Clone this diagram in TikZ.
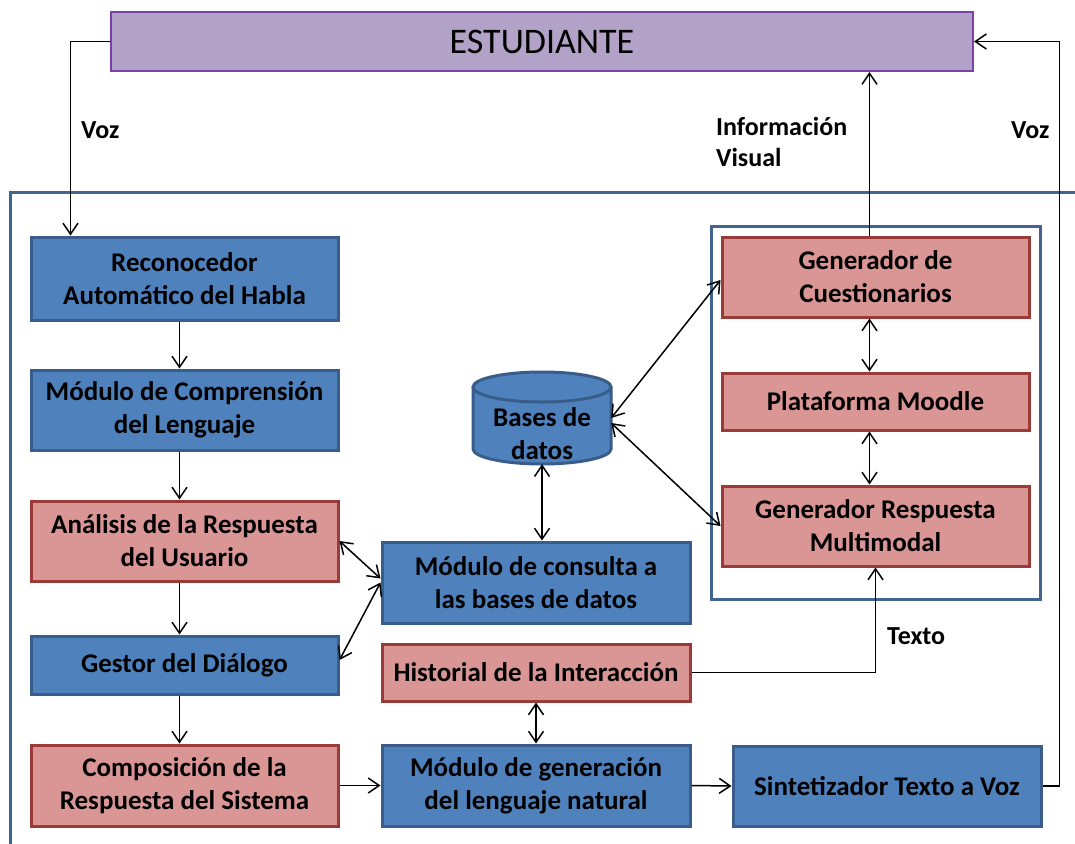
\documentclass[tikz,border=0pt]{standalone}
\usepackage{fontspec}
\setmainfont{Carlito}
\usetikzlibrary{arrows.meta}
\definecolor{azul}{HTML}{4F81BD}
\definecolor{azulborde}{HTML}{385D8A}
\definecolor{rosa}{HTML}{D99694}
\definecolor{rojoborde}{HTML}{9B3B38}
\definecolor{lila}{HTML}{B3A2C7}
\definecolor{lilaborde}{HTML}{7A3FA8}
\definecolor{marco}{HTML}{41658F}
\begin{document}
\begin{tikzpicture}[x=1pt,y=-1pt,
    caja/.style={draw,line width=3pt,align=center,inner sep=0pt,text=black,
      font=\fontsize{27}{33}\selectfont\bfseries},
    azulcaja/.style={caja,fill=azul,draw=azulborde},
    rojacaja/.style={caja,fill=rosa,draw=rojoborde},
    flecha/.style={line width=1.5pt,-{Straight Barb[length=11pt,width=15pt]}},
    dflecha/.style={line width=1.5pt,{Straight Barb[length=11pt,width=15pt]}-{Straight Barb[length=11pt,width=15pt]}},
    etiqueta/.style={font=\fontsize{26}{31}\selectfont\bfseries,align=left,inner sep=0pt}]
  \fill[white] (0,0) rectangle (1075,843);
  \useasboundingbox (0,0) rectangle (1075,843);
  \draw[marco,line width=3pt] (10,845) -- (10,192) -- (1077,192);
  \draw[marco,line width=3pt] (711,226) rectangle (1040,599);
  \node[draw=lilaborde,fill=lila,line width=2pt,minimum width=862pt,minimum height=59pt,
    font=\fontsize{36}{40}\selectfont] (est) at (542,41.5) {ESTUDIANTE};
  \node[azulcaja,minimum width=307pt,minimum height=83pt] (rah) at (184.5,278.5) {Reconocedor\\Automático del Habla};
  \node[azulcaja,minimum width=307pt,minimum height=80pt] (mcl) at (184.5,410) {Módulo de Comprensión\\del Lenguaje};
  \node[rojacaja,minimum width=307pt,minimum height=80pt] (ana) at (184.5,541) {Análisis de la Respuesta\\del Usuario};
  \node[azulcaja,minimum width=307pt,minimum height=58pt] (ges) at (184.5,665) {Gestor del Diálogo};
  \node[rojacaja,minimum width=307pt,minimum height=81pt] (com) at (184.5,785.5) {Composición de la\\Respuesta del Sistema};
  \fill[azul] (473,387) rectangle (611,449);
  \fill[azul] (542,449) ellipse [x radius=69, y radius=15];
  \draw[azulborde,line width=3pt] (473,387) -- (473,449) arc[start angle=180,end angle=0,x radius=69,y radius=15] -- (611,387);
  \draw[azulborde,fill=azul,line width=3pt] (542,387) ellipse [x radius=69, y radius=15];
  \node[minimum width=138pt,minimum height=92pt,inner sep=0pt] (bd) at (542,418) {};
  \node[caja,draw=none] (bdtexto) at (542,434) {Bases de\\datos};
  \node[azulcaja,minimum width=308pt,minimum height=81pt] (mcbd) at (536,582.5) {Módulo de consulta a\\las bases de datos};
  \node[rojacaja,minimum width=308pt,minimum height=57pt] (his) at (536,672.5) {Historial de la Interacción};
  \node[azulcaja,minimum width=308pt,minimum height=81pt] (mgl) at (536,785.5) {Módulo de generación\\del lenguaje natural};
  \node[azulcaja,minimum width=308pt,minimum height=80pt] (stv) at (887,786) {Sintetizador Texto a Voz};
  \node[rojacaja,minimum width=307pt,minimum height=80pt] (gcu) at (875.5,277) {Generador de\\Cuestionarios};
  \node[rojacaja,minimum width=307pt,minimum height=57pt] (pmo) at (875.5,401.5) {Plataforma Moodle};
  \node[rojacaja,minimum width=307pt,minimum height=80pt] (grm) at (875.5,526) {Generador Respuesta\\Multimodal};
  \draw[flecha] (est.west) -| ([xshift=41pt]rah.north west);
  \draw[flecha] ([xshift=-5pt]rah.south) -- ([xshift=-5pt]mcl.north);
  \draw[flecha] ([xshift=-5pt]mcl.south) -- ([xshift=-5pt]ana.north);
  \draw[flecha] ([xshift=-5pt]ana.south) -- ([xshift=-5pt]ges.north);
  \draw[flecha] ([xshift=-5pt]ges.south) -- ([xshift=-5pt]com.north);
  \draw[dflecha] (ana.east) -- ([yshift=4pt]mcbd.west);
  \draw[dflecha] ([yshift=5pt]ges.east) -- (mcbd.west);
  \draw[dflecha] (bd.south) -- (bd.south |- mcbd.north);
  \draw[dflecha] (bd.east) -- ([yshift=-3pt]gcu.west);
  \draw[dflecha] ([yshift=-5pt]bd.east) -- (grm.west);
  \draw[dflecha] ([xshift=-6pt]gcu.south) -- ([xshift=-6pt]pmo.north);
  \draw[dflecha] ([xshift=-6pt]pmo.south) -- ([xshift=-6pt]grm.north);
  \draw[dflecha] (his.south) -- (his.south |- mgl.north);
  \draw[flecha] ([xshift=-6pt]gcu.north) -- ([xshift=-6pt]gcu.north |- est.south);
  \draw[flecha] (his.east) -| (grm.south);
  \draw[flecha] (com.east) -- (mgl.west);
  \draw[flecha] (mgl.east) -- (stv.east -| stv.west);
  \draw[flecha] (stv.east) -- ++(17,0) |- (est.east);
  \node[etiqueta,anchor=west] (lvozin) at (81,130) {Voz};
  \node[etiqueta,anchor=west] (linfo) at (716,142) {Información\\Visual};
  \node[etiqueta,anchor=west] (lvozout) at (1011,130) {Voz};
  \node[etiqueta,anchor=west] (ltexto) at (887,636) {Texto};
\end{tikzpicture}
\end{document}
